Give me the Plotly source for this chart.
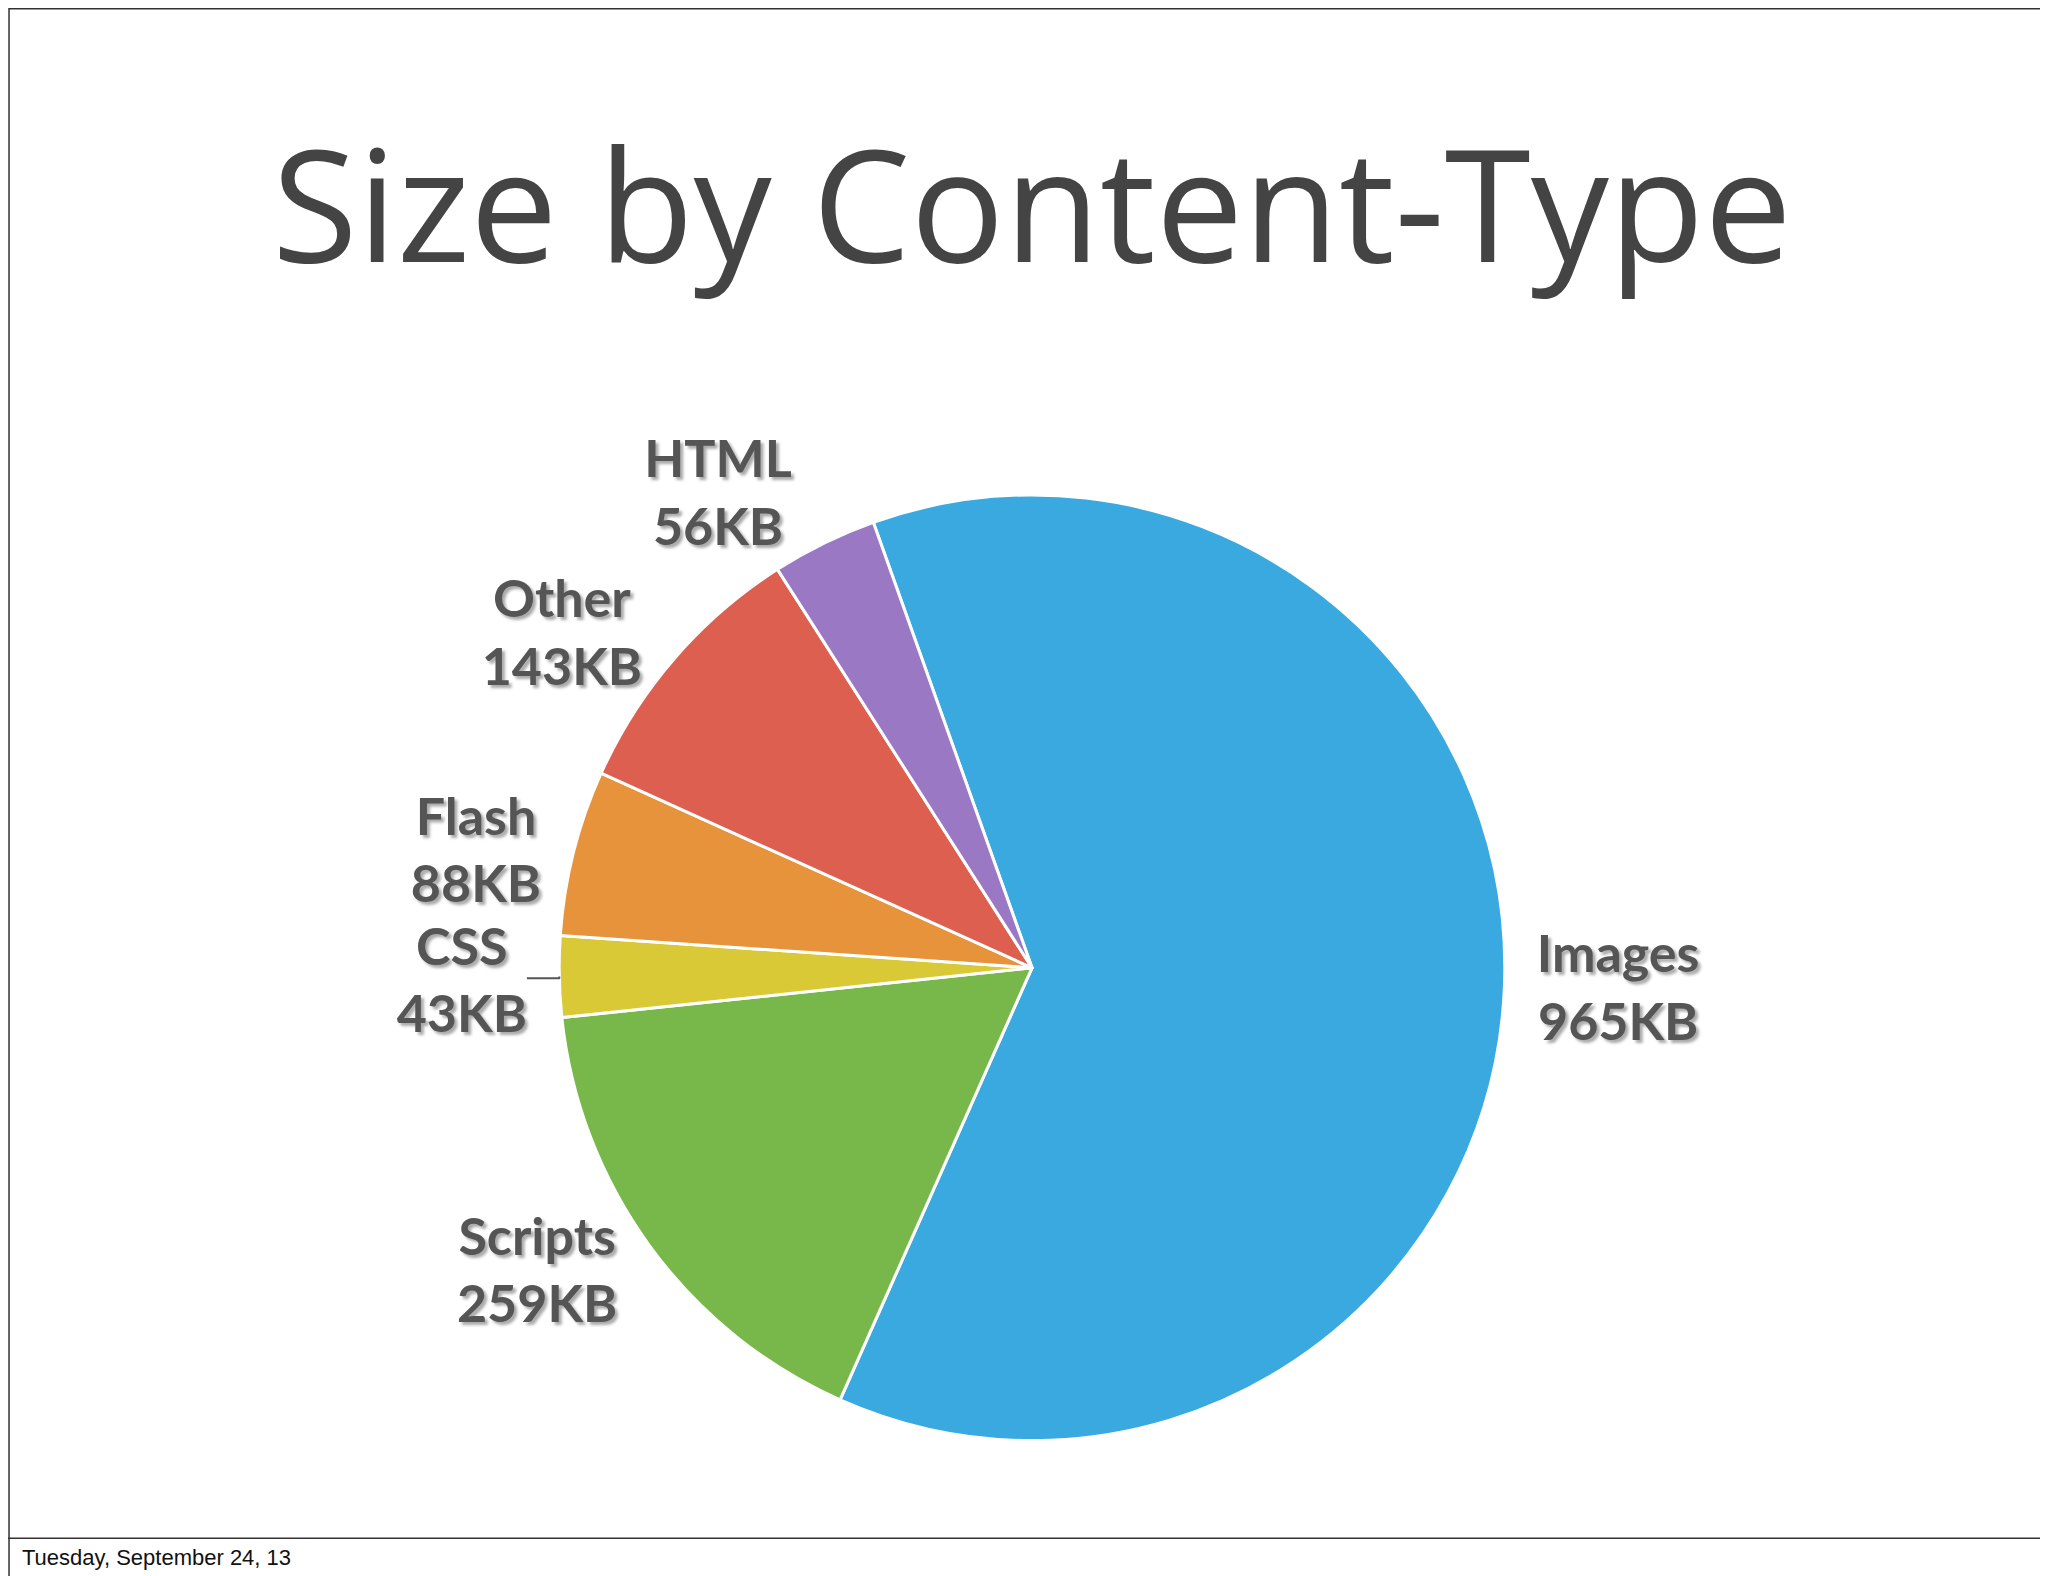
import plotly.graph_objects as go

labels = ["Images", "Scripts", "CSS", "Flash", "Other", "HTML"]
values = [965, 259, 43, 88, 143, 56]
colors = ["#39a9e0", "#78b84a", "#d9c936", "#e6933b", "#dc5f50", "#9a78c4"]

fig = go.Figure(go.Pie(
    labels=labels, values=values, sort=False, direction="clockwise", rotation=-19.6,
    marker=dict(colors=colors, line=dict(color="white", width=3)),
    texttemplate="%{label}<br>%{value}KB", textposition="outside",
    textfont=dict(family="Lato", size=52, color="#555555", weight="bold",
                  shadow="3px 3px 3px #aaaaaa"),
    showlegend=False, hoverinfo="label+value",
    domain=dict(x=[0.269, 0.731], y=[0.091, 0.691]),
))
fig.update_layout(
    width=2048, height=1576, margin=dict(l=0, r=0, t=0, b=0),
    paper_bgcolor="white",
    annotations=[
        dict(text="Size by Content-Type", x=0.5, y=0.946, xref="paper", yref="paper",
             showarrow=False, font=dict(family="Open Sans", size=156, color="#444444")),
        dict(text="Tuesday, September 24, 13", x=0.006, y=0.0165, xref="paper", yref="paper",
             xanchor="left", yanchor="middle", showarrow=False,
             font=dict(family="Liberation Sans", size=22, color="#111111")),
    ],
    shapes=[
        dict(type="rect", xref="paper", yref="paper", x0=0.0005, x1=0.9995, y0=0.0005, y1=0.9995,
             line=dict(color="#333333", width=1.5)),
        dict(type="line", xref="paper", yref="paper", x0=0, x1=1, y0=0.029, y1=0.029,
             line=dict(color="#333333", width=1.5)),
    ],
)
fig.write_html("out.html")
